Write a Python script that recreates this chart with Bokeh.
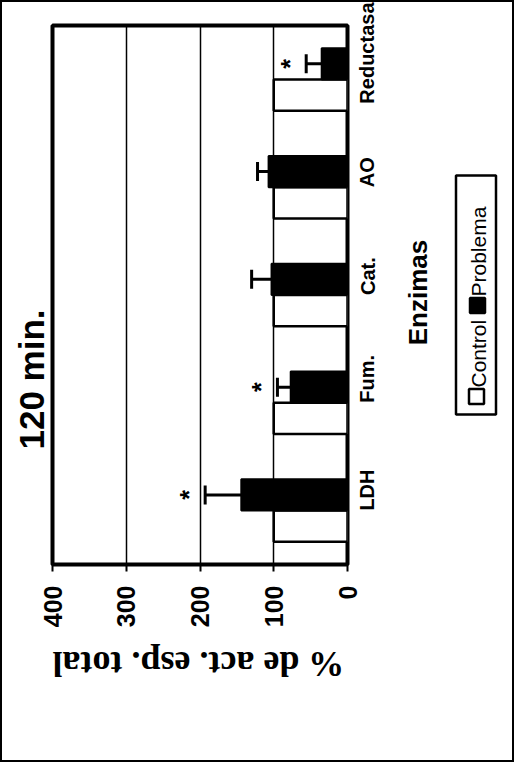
import math
from bokeh.plotting import figure
from bokeh.layouts import row
from bokeh.models import Range1d, FactorRange, FixedTicker, ColumnDataSource, Title
from bokeh.transform import dodge
from bokeh.core.properties import value
from bokeh.embed import file_html
from bokeh.resources import INLINE

# ---- data ----
enzimas = ["LDH", "Fum.", "Cat.", "AO", "Reductasa"]
control = [100, 100, 100, 100, 100]
problema = [144, 77, 103, 107, 35]
problema_err = [49, 18, 27, 15, 21]
significativo = ["*", "*", "", "", "*"]
x_ticks = [0, 100, 200, 300, 400]

titulo = "120 min."
x_titulo = "% de act. esp. total"
y_titulo = "Enzimas"
series = ["Control", "Problema"]
series_fill = ["white", "black"]

H = 758

src = ColumnDataSource(dict(
    enzima=enzimas,
    control=control,
    problema=problema,
    upper=[p + e for p, e in zip(problema, problema_err)],
    star_x=[p + e + 22 for p, e in zip(problema, problema_err)],
    sig=significativo,
))

main = figure(
    width=390, height=H,
    y_range=FactorRange(factors=enzimas),
    x_range=Range1d(400, 0),
    y_axis_location="right",
    output_backend="svg", toolbar_location=None,
    min_border_left=50, min_border_right=45,
    min_border_top=23, min_border_bottom=H - 562,
    background_fill_color="white", border_fill_color="white",
)

bw = 0.29
off = bw / 2

main.hbar(y=dodge("enzima", -off, range=main.y_range), left=0, right="control", height=bw,
          source=src, fill_color=series_fill[0], line_color="black", line_width=2.5)
main.hbar(y=dodge("enzima", off, range=main.y_range), left=0, right="problema", height=bw,
          source=src, fill_color=series_fill[1], line_color="black", line_width=2)

# error bars
main.segment(x0="problema", x1="upper", y0=dodge("enzima", off, range=main.y_range),
             y1=dodge("enzima", off, range=main.y_range), source=src,
             line_color="black", line_width=3)
main.scatter(x="upper", y=dodge("enzima", off, range=main.y_range), marker="dash",
             angle=math.pi / 2, size=19, line_color="black", line_width=3, source=src)

# significance marks
main.text(x="star_x", y=dodge("enzima", off, range=main.y_range), text="sig", source=src,
          angle=math.pi / 2, text_font=value("Liberation Sans"), text_font_style="bold",
          text_font_size="25px", text_align="center", text_baseline="middle", text_color="black")

# frame and grid
main.outline_line_color = "black"
main.outline_line_width = 4
main.xgrid.ticker = FixedTicker(ticks=x_ticks)
main.xgrid.grid_line_color = "black"
main.xgrid.grid_line_width = 1.5
main.ygrid.grid_line_color = None

xa = main.xaxis[0]
xa.ticker = FixedTicker(ticks=x_ticks)
xa.axis_line_color = None
xa.major_tick_in = 0
xa.major_tick_out = 7
xa.major_tick_line_width = 2
xa.minor_tick_line_color = None
xa.major_label_orientation = math.pi / 2
xa.major_label_standoff = 14
xa.major_label_text_font = "Liberation Sans"
xa.major_label_text_font_style = "bold"
xa.major_label_text_font_size = "25px"
xa.major_label_text_color = "black"
xa.axis_label = x_titulo
xa.axis_label_orientation = math.pi
xa.axis_label_align = "end"
xa.axis_label_standoff = 34
xa.axis_label_text_font = "Liberation Serif"
xa.axis_label_text_font_style = "bold"
xa.axis_label_text_font_size = "36px"
xa.axis_label_text_color = "black"

ya = main.yaxis[0]
ya.axis_line_color = None
ya.major_tick_line_color = None
ya.major_tick_in = 0
ya.major_tick_out = 0
ya.major_label_orientation = math.pi / 2
ya.major_label_standoff = 20
ya.major_label_text_font = "Liberation Sans"
ya.major_label_text_font_style = "bold"
ya.major_label_text_font_size = "20px"
ya.major_label_text_color = "black"

# chart title, in the left margin (reads bottom to top)
main.add_layout(Title(text=titulo, align="left", offset=115, standoff=4,
                      text_font="Liberation Sans", text_font_style="bold",
                      text_font_size="35px", text_color="black"), "left")

# ---- right-hand panel: y title and rotated legend ----
# its frame is aligned with the main frame (page y 33..572), x spans page 400..520
leg = figure(width=120, height=H, x_range=Range1d(400, 520), y_range=Range1d(572, 33),
             x_axis_location=None, y_axis_location=None,
             output_backend="svg", toolbar_location=None,
             min_border=0, outline_line_color=None,
             background_fill_color="white", border_fill_color="white")
leg.grid.visible = False
leg.text(x=[425], y=[300], text=[y_titulo], angle=math.pi / 2,
         text_font=value("Liberation Sans"), text_font_style="bold", text_font_size="26px",
         text_align="center", text_baseline="middle", text_color="black")
leg.rect(x=[483.5], y=[302.5], width=[40], height=[239], fill_color="white",
         line_color="black", line_width=2.5)
leg.scatter(x=[484, 485], y=[404, 313], marker="square", size=15,
            fill_color=series_fill, line_color="black", line_width=2.5)
leg.text(x=[486, 486], y=[395, 304], text=series, angle=math.pi / 2,
         text_font=value("Liberation Sans"), text_font_size="21px",
         text_align="left", text_baseline="middle", text_color="black")

layout = row(main, leg)
layout.styles = {"border": "2px solid black"}

open("out.html", "w").write(file_html(layout, INLINE))
